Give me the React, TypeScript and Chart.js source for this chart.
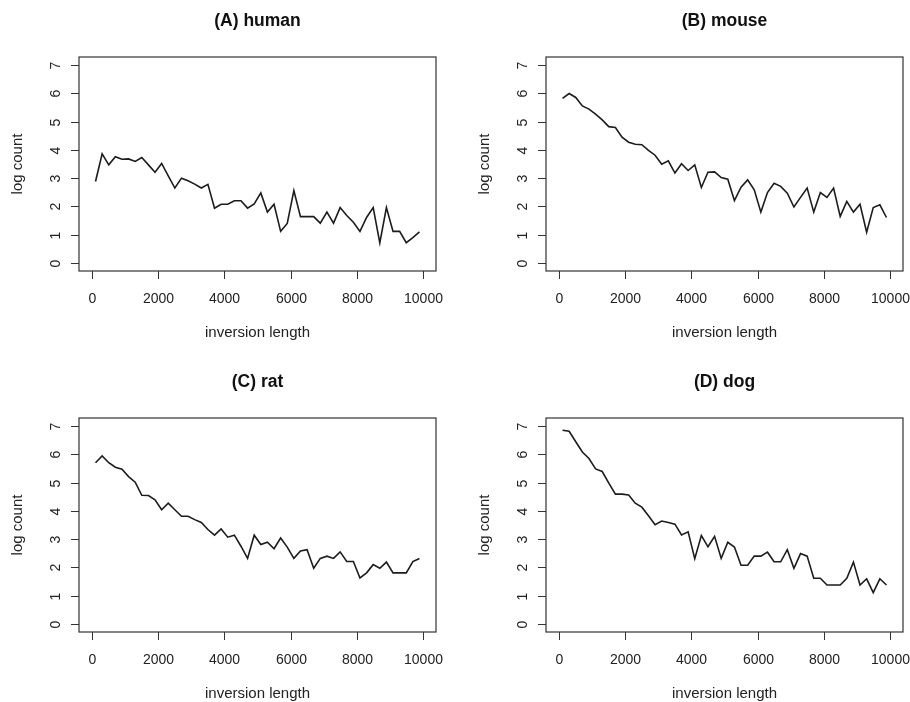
import React, { useEffect, useRef } from "react";
import { Chart, registerables } from "chart.js";

Chart.register(...registerables);

const lengths = [
  100, 300, 500, 700, 900, 1100, 1300, 1500, 1700, 1900,
  2100, 2300, 2500, 2700, 2900, 3100, 3300, 3500, 3700, 3900,
  4100, 4300, 4500, 4700, 4900, 5100, 5300, 5500, 5700, 5900,
  6100, 6300, 6500, 6700, 6900, 7100, 7300, 7500, 7700, 7900,
  8100, 8300, 8500, 8700, 8900, 9100, 9300, 9500, 9700, 9900,
];

const human = [
  2.88, 3.86, 3.47, 3.76, 3.67, 3.68, 3.59, 3.73, 3.47, 3.21,
  3.52, 3.08, 2.65, 3.0, 2.91, 2.79, 2.65, 2.78, 1.94, 2.08,
  2.08, 2.2, 2.2, 1.94, 2.09, 2.48, 1.8, 2.08, 1.12, 1.4,
  2.56, 1.64, 1.64, 1.64, 1.41, 1.8, 1.41, 1.96, 1.68, 1.44,
  1.12, 1.61, 1.96, 0.71, 1.96, 1.12, 1.12, 0.72, 0.9, 1.1,
];

const mouse = [
  5.82, 5.99, 5.85, 5.55, 5.44, 5.26, 5.06, 4.82, 4.79, 4.45,
  4.27, 4.2, 4.18, 3.98, 3.81, 3.49, 3.61, 3.18, 3.51, 3.27,
  3.47, 2.67, 3.21, 3.22, 3.02, 2.96, 2.21, 2.68, 2.94, 2.59,
  1.8, 2.49, 2.82, 2.71, 2.47, 1.98, 2.32, 2.65, 1.8, 2.49,
  2.32, 2.65, 1.65, 2.18, 1.8, 2.08, 1.09, 1.96, 2.06, 1.61,
];

const rat = [
  5.7, 5.94, 5.7, 5.54, 5.47, 5.21, 5.01, 4.55, 4.54, 4.39,
  4.04, 4.27, 4.04, 3.81, 3.81, 3.69, 3.59, 3.34, 3.14, 3.36,
  3.07, 3.14, 2.75, 2.32, 3.14, 2.81, 2.89, 2.66, 3.04, 2.72,
  2.32, 2.58, 2.63, 1.97, 2.32, 2.4, 2.32, 2.55, 2.21, 2.21,
  1.63, 1.81, 2.1, 1.97, 2.19, 1.81, 1.81, 1.81, 2.21, 2.32,
];

const dog = [
  6.85, 6.81, 6.44, 6.08, 5.85, 5.48, 5.39, 4.98, 4.59, 4.59,
  4.56, 4.27, 4.13, 3.83, 3.51, 3.64, 3.59, 3.53, 3.15, 3.26,
  2.31, 3.13, 2.73, 3.1, 2.32, 2.89, 2.72, 2.08, 2.08, 2.4,
  2.4, 2.54, 2.2, 2.2, 2.63, 1.97, 2.49, 2.4, 1.62, 1.62,
  1.38, 1.38, 1.38, 1.62, 2.19, 1.38, 1.6, 1.11, 1.6, 1.38,
];

const xTicks = [0, 2000, 4000, 6000, 8000, 10000];
const yTicks = [0, 1, 2, 3, 4, 5, 6, 7];

const panels = [
  { title: "(A) human", values: human, left: 0, top: 0, pad: { left: 79, top: 57, right: 19, bottom: 80 } },
  { title: "(B) mouse", values: mouse, left: 455, top: 0, pad: { left: 91, top: 57, right: 7, bottom: 80 } },
  { title: "(C) rat", values: rat, left: 0, top: 351, pad: { left: 79, top: 67, right: 19, bottom: 70 } },
  { title: "(D) dog", values: dog, left: 455, top: 351, pad: { left: 91, top: 67, right: 7, bottom: 70 } },
];

const FONT = '"Liberation Sans", Arial, Helvetica, sans-serif';
const INK = "#222";

const rPlotPlugin = {
  id: "rPlot",
  afterDatasetsDraw(chart: any, _args: any, opts: any) {
    const { ctx, chartArea } = chart;
    const xs = chart.scales.x;
    const ys = chart.scales.y;
    const { left, right, top, bottom } = chartArea;
    ctx.save();
    ctx.strokeStyle = "#333";
    ctx.lineWidth = 1.2;
    ctx.strokeRect(left, top, right - left, bottom - top);

    ctx.fillStyle = INK;
    ctx.strokeStyle = "#333";
    ctx.lineWidth = 1;
    // x ticks
    ctx.font = `14px ${FONT}`;
    ctx.textAlign = "center";
    ctx.textBaseline = "middle";
    for (const t of xTicks) {
      const px = Math.round(xs.getPixelForValue(t)) + 0.5;
      ctx.beginPath();
      ctx.moveTo(px, bottom);
      ctx.lineTo(px, bottom + 8);
      ctx.stroke();
      ctx.fillText(String(t), px, bottom + 28);
    }
    // y ticks
    for (const t of yTicks) {
      const py = Math.round(ys.getPixelForValue(t)) + 0.5;
      ctx.beginPath();
      ctx.moveTo(left - 8, py);
      ctx.lineTo(left, py);
      ctx.stroke();
      ctx.save();
      ctx.translate(left - 23, py);
      ctx.rotate(-Math.PI / 2);
      ctx.fillText(String(t), 0, 0);
      ctx.restore();
    }
    // axis titles
    ctx.font = `15px ${FONT}`;
    ctx.fillText("inversion length", (left + right) / 2, bottom + 62);
    ctx.save();
    ctx.translate(left - 61, (top + bottom) / 2);
    ctx.rotate(-Math.PI / 2);
    ctx.fillText("log count", 0, 0);
    ctx.restore();
    // main title
    ctx.font = `bold 17.5px ${FONT}`;
    ctx.fillStyle = "#111";
    ctx.fillText(opts.title, (left + right) / 2, top - 36);
    ctx.restore();
  },
};

function Panel({ p }: { p: (typeof panels)[number] }) {
  const ref = useRef<HTMLCanvasElement | null>(null);
  useEffect(() => {
    if (!ref.current) return;
    const chart = new Chart(ref.current, {
      type: "line",
      data: {
        datasets: [
          {
            data: lengths.map((x, i) => ({ x, y: p.values[i] })),
            borderColor: "#1c1c1c",
            borderWidth: 1.6,
            pointRadius: 0,
            tension: 0,
            fill: false,
          },
        ],
      },
      options: {
        animation: false,
        responsive: false,
        events: [],
        layout: { padding: p.pad },
        scales: {
          x: { type: "linear", min: -400, max: 10400, display: false },
          y: { type: "linear", min: -0.28, max: 7.28, display: false },
        },
        plugins: {
          legend: { display: false },
          tooltip: { enabled: false },
          rPlot: { title: p.title },
        } as any,
      },
      plugins: [rPlotPlugin],
    });
    return () => chart.destroy();
  }, [p]);
  return (
    <canvas
      ref={ref}
      width={455}
      height={351}
      style={{ position: "absolute", left: p.left, top: p.top, width: 455, height: 351 }}
    />
  );
}

export default function App() {
  return (
    <div
      style={{
        position: "fixed",
        left: 0,
        top: 0,
        width: 910,
        height: 702,
        background: "#fff",
        overflow: "hidden",
      }}
    >
      {panels.map((p) => (
        <Panel key={p.title} p={p} />
      ))}
    </div>
  );
}
